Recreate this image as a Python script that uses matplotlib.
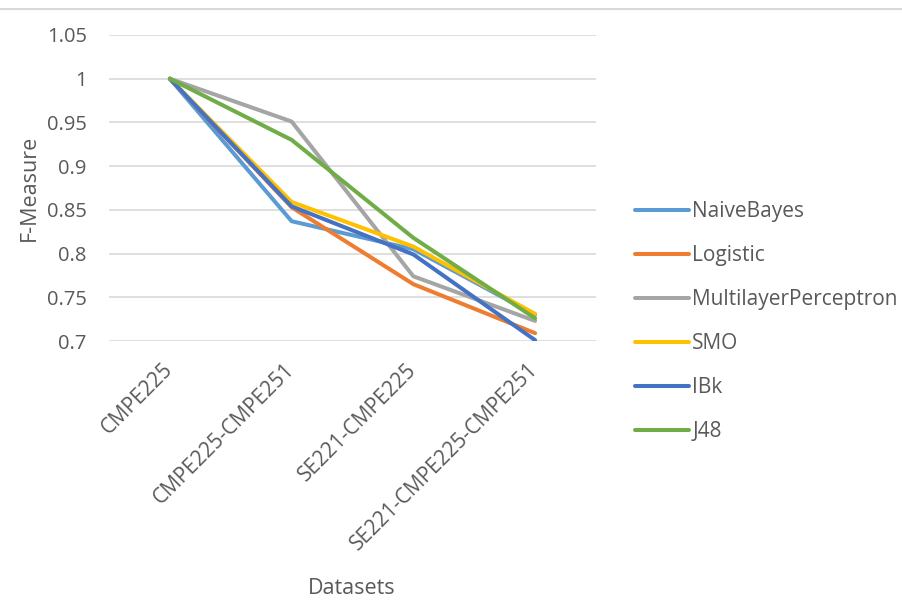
import matplotlib
matplotlib.use("Agg")
import matplotlib.pyplot as plt
import matplotlib.transforms as mtransforms
from matplotlib.lines import Line2D

# data
datasets = ["CMPE225", "CMPE225-CMPE251", "SE221-CMPE225", "SE221-CMPE225-CMPE251"]
naive_bayes = [1.0, 0.837, 0.805, 0.730]
logistic = [1.0, 0.853, 0.765, 0.709]
mlp = [1.0, 0.951, 0.774, 0.723]
smo = [1.0, 0.859, 0.808, 0.731]
ibk = [1.0, 0.854, 0.799, 0.701]
j48 = [1.0, 0.930, 0.818, 0.726]

series = [
    ("NaiveBayes", naive_bayes, "#5B9BD5"),
    ("Logistic", logistic, "#ED7D31"),
    ("MultilayerPerceptron", mlp, "#A5A5A5"),
    ("SMO", smo, "#FFC000"),
    ("IBk", ibk, "#4472C4"),
    ("J48", j48, "#70AD47"),
]

plt.rcParams['font.family'] = ['Open Sans', 'DejaVu Sans']
txt = "#595959"

fig = plt.figure(figsize=(9.03, 6.01), dpi=100)
ax = fig.add_axes([0.1207, 0.4326, 0.5393, 0.5092])

x = range(len(datasets))
for name, vals, col in series:
    ax.plot(x, vals, color=col, lw=2.9, label=name, solid_capstyle='round',
            solid_joinstyle='round')

ax.set_xlim(-0.5, 3.5)
ax.set_ylim(0.7, 1.05)
ax.set_yticks([0.7, 0.75, 0.8, 0.85, 0.9, 0.95, 1.0, 1.05])
ax.set_yticklabels(["0.7", "0.75", "0.8", "0.85", "0.9", "0.95", "1", "1.05"])
ax.set_xticks(list(x))
ax.set_xticklabels(datasets, rotation=45, ha='right', rotation_mode='anchor')
ax.grid(axis='y', color='#D9D9D9', lw=1.2)
ax.set_axisbelow(True)
for s in ax.spines.values():
    s.set_visible(False)
ax.tick_params(axis='both', length=0, colors=txt)
ax.tick_params(axis='y', pad=16, labelsize=14.5)
ax.tick_params(axis='x', pad=13, labelsize=15)

# nudge rotated category labels a little to the left
shift = mtransforms.ScaledTranslation(-0.08, 0, fig.dpi_scale_trans)
for lab in ax.get_xticklabels():
    lab.set_transform(lab.get_transform() + shift)

ax.set_ylabel("F-Measure", color=txt, fontsize=15.5, labelpad=5)
fig.text(0.39, 0.0216, "Datasets", color=txt, fontsize=15.5, ha='center', va='center')

ax.legend(loc='upper left', bbox_to_anchor=(0.694, 0.679), bbox_transform=fig.transFigure,
          frameon=False, fontsize=15, labelcolor=txt, handlelength=2.6,
          handletextpad=0.15, labelspacing=1.1, borderaxespad=0)

fig.add_artist(Line2D([0, 1], [0.985, 0.985], transform=fig.transFigure,
                      color='#D9D9D9', lw=1.5))

fig.savefig("out.png", dpi=100)
